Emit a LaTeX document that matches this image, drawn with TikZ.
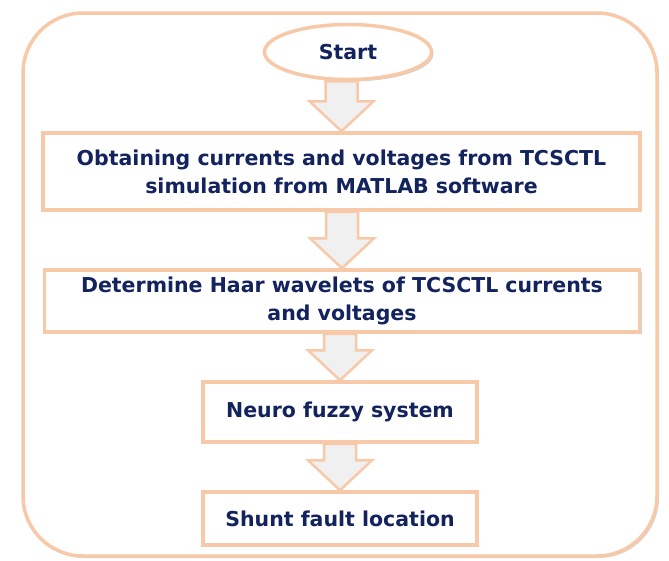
\documentclass[tikz,border=0pt]{standalone}
\usepackage{fontspec}
\setmainfont{DejaVu Sans}
\usetikzlibrary{shapes.geometric,shadows,calc}
\definecolor{peach}{HTML}{F8C9A8}
\definecolor{navy}{HTML}{13235E}
\definecolor{arrowfill}{HTML}{F0F0F0}
\tikzset{
  boxfont/.style={font=\fontsize{20.5}{28}\selectfont\bfseries, text=navy},
  stepbox/.style={rectangle, draw=peach, line width=3.5pt, fill=white,
    inner sep=0pt, align=center, boxfont,
    drop shadow={opacity=0.35, shadow xshift=2pt, shadow yshift=-2pt}},
  startnode/.style={ellipse, draw=peach, line width=3.5pt, fill=white,
    inner sep=0pt, boxfont,
    drop shadow={opacity=0.35, shadow xshift=2pt, shadow yshift=-2pt}},
  flowarrow/.style={draw=peach, line width=2.5pt, fill=arrowfill, line join=miter},
  frame/.style={draw=peach, line width=3.5pt, rounded corners=60pt, fill=white,
    drop shadow={opacity=0.3, shadow xshift=2pt, shadow yshift=-2pt}}
}
% block arrow from the bottom of one node to the top of the next
\newcommand\blockarrow[2]{%
  \draw[flowarrow] let \p1=(#1.south), \p2=(#2.north) in
    (\x2-16,\y1) -- (\x2+16,\y1) -- (\x2+16,\y2+30) -- (\x2+32,\y2+30)
    -- (\x2,\y2) -- (\x2-32,\y2+30) -- (\x2-16,\y2+30) -- cycle;}
\begin{document}
\begin{tikzpicture}[x=1pt,y=-1pt]
  \useasboundingbox (0,0) rectangle (669,560);
  \fill[white] (0,0) rectangle (669,560);
  \draw[frame] (23,13) rectangle (657,556);

  \node[startnode, minimum width=167pt, minimum height=55pt] (start) at (348,52) {Start};
  \node[stepbox, minimum width=597pt, minimum height=77pt] (obtain) at (341.5,171.5)
    {Obtaining currents and voltages from TCSCTL\\simulation from MATLAB software};
  \node[stepbox, minimum width=595pt, minimum height=62pt] (haar) at (342,301)
    {Determine Haar wavelets of TCSCTL currents\\and voltages};
  \node[stepbox, minimum width=274pt, minimum height=60pt] (neuro) at (340,412)
    {Neuro fuzzy system};
  \node[stepbox, minimum width=274pt, minimum height=53pt] (shunt) at (340,518.5)
    {Shunt fault location};

  \blockarrow{start}{obtain}
  \blockarrow{obtain}{haar}
  \blockarrow{haar}{neuro}
  \blockarrow{neuro}{shunt}
\end{tikzpicture}
\end{document}
